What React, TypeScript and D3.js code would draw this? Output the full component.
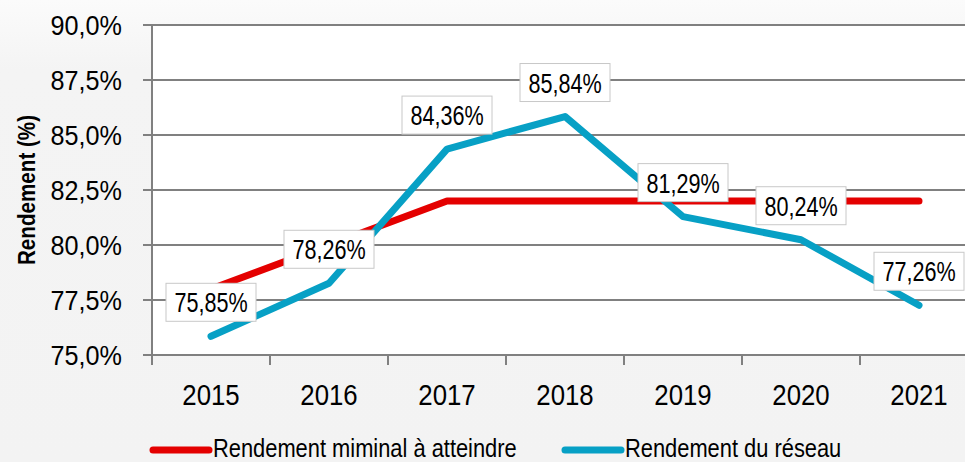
import React, { useEffect, useRef } from 'react';
import * as d3 from 'd3';

const years = ['2015', '2016', '2017', '2018', '2019', '2020', '2021'];
const minimalTarget = [78.0, 80.0, 82.0, 82.0, 82.0, 82.0, 82.0];
const networkYield = [75.85, 78.26, 84.36, 85.84, 81.29, 80.24, 77.26];
const yTicks = [75, 77.5, 80, 82.5, 85, 87.5, 90];
const seriesNames = ['Rendement miminal à atteindre', 'Rendement du réseau'];

const W = 965;
const H = 462;
const RED = '#e40000';
const BLUE = '#07a0c5';
const GRID = '#808080';
const FONT = 'Arial, "Liberation Sans", sans-serif';

const fmt = (v: number, digits: number) => v.toFixed(digits).replace('.', ',') + '%';

export default function App() {
    const svgRef = useRef<SVGSVGElement>(null);

    useEffect(() => {
        const svg = d3.select(svgRef.current);
        svg.selectAll('*').remove();

        const left = 152, right = 978, top = 25, bottom = 355;
        const x = d3.scaleBand<string>().domain(years).range([left, right]).padding(0);
        const y = d3.scaleLinear().domain([75, 90]).range([bottom, top]);
        const cx = (d: string) => (x(d) as number) + x.bandwidth() / 2;

        // condensed text: font size from glyph height, squeezed horizontally
        const label = (g: any, tx: number, ty: number, str: string, size: number, sx: number, anchor = 'middle', weight = 'normal') =>
            g.append('text')
                .attr('transform', `translate(${tx},${ty}) scale(${sx},1)`)
                .attr('text-anchor', anchor)
                .attr('font-family', FONT)
                .attr('font-size', size)
                .attr('font-weight', weight)
                .attr('fill', '#000')
                .text(str);

        // background
        const defs = svg.append('defs');
        const grad = defs.append('linearGradient').attr('id', 'bg').attr('x1', 0).attr('y1', 0).attr('x2', 0).attr('y2', 1);
        grad.append('stop').attr('offset', '0%').attr('stop-color', '#fbfbfb');
        grad.append('stop').attr('offset', '15%').attr('stop-color', '#f4f4f4');
        grad.append('stop').attr('offset', '100%').attr('stop-color', '#f3f3f3');
        svg.append('rect').attr('width', W).attr('height', H).attr('fill', 'url(#bg)');
        svg.append('rect').attr('x', left).attr('y', top).attr('width', right - left).attr('height', bottom - top).attr('fill', '#fff');

        // gridlines + y tick marks
        const grid = svg.append('g');
        grid.selectAll('line')
            .data(yTicks)
            .join('line')
            .attr('x1', left - 9)
            .attr('x2', right)
            .attr('y1', d => y(d))
            .attr('y2', d => y(d))
            .attr('stroke', GRID)
            .attr('stroke-width', 2);

        // y axis line
        svg.append('line').attr('x1', left).attr('x2', left).attr('y1', top).attr('y2', bottom + 10)
            .attr('stroke', GRID).attr('stroke-width', 2);

        // x tick marks at band boundaries
        svg.append('g').selectAll('line')
            .data(years.slice(1))
            .join('line')
            .attr('x1', d => x(d) as number)
            .attr('x2', d => x(d) as number)
            .attr('y1', bottom)
            .attr('y2', bottom + 10)
            .attr('stroke', GRID)
            .attr('stroke-width', 2);

        // y tick labels
        yTicks.forEach(t => label(svg, 122, y(t) + 10, fmt(t, 1), 28, 0.9, 'end'));

        // x tick labels
        years.forEach(yr => label(svg, cx(yr), 405, yr, 30, 0.86));

        // y title
        svg.append('text')
            .attr('transform', `translate(35,190) rotate(-90) scale(0.86,1)`)
            .attr('text-anchor', 'middle')
            .attr('font-family', FONT)
            .attr('font-size', 24)
            .attr('font-weight', 'bold')
            .text('Rendement (%)');

        // lines
        const line = d3.line<number>().x((_, i) => cx(years[i])).y(d => y(d));
        svg.append('path').attr('d', line(minimalTarget))
            .attr('fill', 'none').attr('stroke', RED).attr('stroke-width', 7).attr('stroke-linecap', 'round').attr('stroke-linejoin', 'round');
        svg.append('path').attr('d', line(networkYield))
            .attr('fill', 'none').attr('stroke', BLUE).attr('stroke-width', 7).attr('stroke-linecap', 'round').attr('stroke-linejoin', 'round');

        // data labels
        networkYield.forEach((v, i) => {
            const px = cx(years[i]);
            const py = y(v) - 34;
            const g = svg.append('g');
            g.append('rect')
                .attr('x', px - 45)
                .attr('y', py - 19)
                .attr('width', 90)
                .attr('height', 38)
                .attr('fill', '#fff')
                .attr('stroke', '#c8c8c8')
                .attr('stroke-width', 1);
            label(g, px, py + 10, fmt(v, 2), 27, 0.8);
        });

        // legend
        const legendItems = [
            { name: seriesNames[0], color: RED, x: 153 },
            { name: seriesNames[1], color: BLUE, x: 565 },
        ];
        legendItems.forEach(item => {
            svg.append('line')
                .attr('x1', item.x).attr('x2', item.x + 56)
                .attr('y1', 450).attr('y2', 450)
                .attr('stroke', item.color).attr('stroke-width', 7).attr('stroke-linecap', 'round');
            label(svg, item.x + 60, 457, item.name, 25, 0.875, 'start');
        });
    }, []);

    return (
        <div>
            <style>{`body{margin:0;overflow:hidden}`}</style>
            <svg ref={svgRef} width={W} height={H} style={{ display: 'block' }} />
        </div>
    );
}
